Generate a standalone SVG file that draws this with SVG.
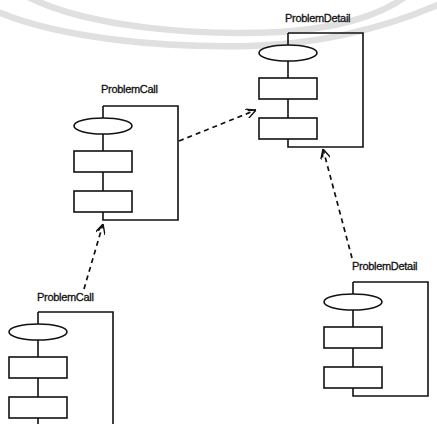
<svg xmlns="http://www.w3.org/2000/svg" width="437" height="424" viewBox="0 0 437 424">
  <defs>
    <style>
      .bg { fill: #ffffff; }
      .seal { fill: none; stroke: #e0e0e0; stroke-width: 6.5; }
      .frame { fill: none; stroke: #111; stroke-width: 1.6; }
      .part { fill: #ffffff; stroke: #111; stroke-width: 1.6; }
      .label { font-family: "Liberation Sans", Arial, sans-serif; font-size: 11px; fill: #111; stroke: #111; stroke-width: 0.3; letter-spacing: -0.3px; }
      .dep { fill: none; stroke: #111; stroke-width: 1.7; stroke-dasharray: 5 4; }
    </style>
    <marker id="open" viewBox="0 0 10 10" refX="10" refY="5" markerWidth="10" markerHeight="10" markerUnits="userSpaceOnUse" orient="auto">
      <path d="M0,0 L10,5 L0,10 M2,2.5 L10,5" fill="none" stroke="#111" stroke-width="1.4"/>
    </marker>
    <!-- one component: frame, ellipse and two boxes; origin = top-left corner of the frame -->
    <g id="comp">
      <path class="frame" d="M0,0 H75 V114 H0 V106 M0,0 V12 M0,28 V45 M0,66 V85"/>
      <ellipse class="part" cx="0" cy="20" rx="29" ry="8"/>
      <rect class="part" x="-29" y="45" width="58" height="21"/>
      <rect class="part" x="-29" y="85" width="58" height="21"/>
    </g>
  </defs>

  <rect class="bg" width="437" height="424"/>

  <!-- faint seal arcs in the background -->
  <g id="seal">
    <path class="seal" d="M28,-3 C90,28 200,36 280,32 C340,28 380,15 405,-3"/>
    <path class="seal" d="M-2,12 C60,38 160,48 250,46 C320,44 380,30 440,4"/>
  </g>

  <g id="problemDetail-top" transform="translate(288,33)">
    <use href="#comp"/>
    <text class="label" x="-3" y="-11">ProblemDetail</text>
  </g>

  <g id="problemCall-mid" transform="translate(103,106)">
    <use href="#comp"/>
    <text class="label" x="-2" y="-13">ProblemCall</text>
  </g>

  <g id="problemCall-low" transform="translate(38,312)">
    <use href="#comp"/>
    <text class="label" x="-1" y="-11">ProblemCall</text>
  </g>

  <g id="problemDetail-low" transform="translate(353,282)">
    <use href="#comp"/>
    <text class="label" x="-1" y="-12">ProblemDetail</text>
  </g>

  <g id="connectors">
    <path class="dep" d="M179,141 L256,110" marker-end="url(#open)"/>
    <path class="dep" d="M84,289 L103,224" marker-end="url(#open)"/>
    <path class="dep" d="M352,258 L323,149" marker-end="url(#open)"/>
  </g>
</svg>
